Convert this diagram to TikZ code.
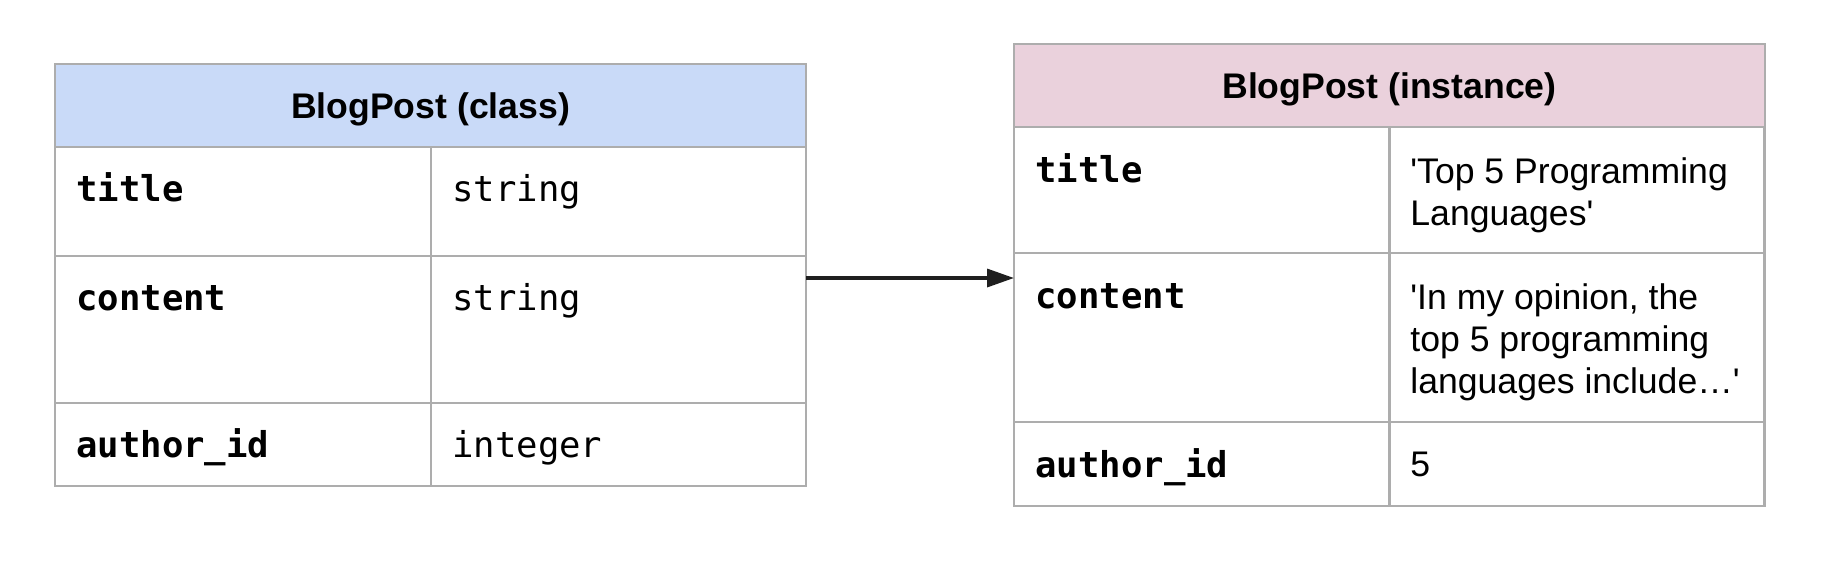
\documentclass[tikz,border=0pt]{standalone}
\usepackage{fontspec}
\setmainfont{Liberation Sans}[Ligatures=TeXOff]
\setmonofont{DejaVu Sans Mono}
\usetikzlibrary{arrows.meta,positioning,calc}
\definecolor{gridgray}{HTML}{ADADAD}
\definecolor{classblue}{HTML}{C9DAF8}
\definecolor{instpink}{HTML}{EAD1DC}
\definecolor{arrowblack}{HTML}{1F1F1F}

\begin{document}
\begin{tikzpicture}[x=0.5pt,y=-0.5pt,>={Triangle[length=13.5pt,width=9pt]},
    tbl/.style={draw=gridgray,line width=1pt,anchor=north west,inner sep=0pt,outer sep=0pt},
    head/.style={tbl,minimum width=375.5pt,minimum height=41.5pt,text depth=0pt,font=\bfseries\fontsize{17.8}{20}\selectfont},
    keycell/.style={tbl,minimum width=188pt},
    valcell/.style={tbl,minimum width=187.5pt},
    keytxt/.style={anchor=base west,inner sep=0pt,font=\ttfamily\bfseries\fontsize{17.8}{20}\selectfont},
    typetxt/.style={anchor=base west,inner sep=0pt,font=\ttfamily\fontsize{17.8}{20}\selectfont},
    valtxt/.style={anchor=north west,inner sep=0pt,align=left,font=\fontsize{17.8}{21}\selectfont}]
    \useasboundingbox (0,0) rectangle (1840,586);

    % class table
    \node[tbl,minimum width=375.5pt,minimum height=211pt] (cls) at (55,64) {};
    \node[head,fill=classblue] (clshead) at (55,64) {BlogPost (class)};
    \node[keycell,minimum height=54.5pt] (clstitle) at (55,147) {};
    \node[valcell,minimum height=54.5pt] (clstitlev) at (431,147) {};
    \node[keycell,minimum height=73.5pt] (clscontent) at (55,256) {};
    \node[valcell,minimum height=73.5pt] (clscontentv) at (431,256) {};
    \node[keycell,minimum height=41.5pt] (clsauthor) at (55,403) {};
    \node[valcell,minimum height=41.5pt] (clsauthorv) at (431,403) {};
    \node[keytxt] at ($(clstitle.north west)+(21,54)$) {title};
    \node[typetxt] at ($(clstitlev.north west)+(21,54)$) {string};
    \node[keytxt] at ($(clscontent.north west)+(21,54)$) {content};
    \node[typetxt] at ($(clscontentv.north west)+(21,54)$) {string};
    \node[keytxt] at ($(clsauthor.north west)+(21,54)$) {author\_id};
    \node[typetxt] at ($(clsauthorv.north west)+(21,54)$) {integer};

    % instance table
    \node[tbl,minimum width=375.5pt,minimum height=231pt] (inst) at (1014,44) {};
    \node[head,fill=instpink] (insthead) at (1014,44) {BlogPost (instance)};
    \node[keycell,minimum height=63pt] (insttitle) at (1014,127) {};
    \node[valcell,minimum height=63pt] (insttitlev) at (1389,127) {};
    \node[keycell,minimum height=84.5pt] (instcontent) at (1014,253) {};
    \node[valcell,minimum height=84.5pt] (instcontentv) at (1389,253) {};
    \node[keycell,minimum height=42pt] (instauthor) at (1014,422) {};
    \node[valcell,minimum height=42pt] (instauthorv) at (1389,422) {};
    \node[keytxt] at ($(insttitle.north west)+(21,55)$) {title};
    \node[valtxt] at ($(insttitlev.north west)+(21,30)$) {'Top 5 Programming\\Languages'};
    \node[keytxt] at ($(instcontent.north west)+(21,55)$) {content};
    \node[valtxt] at ($(instcontentv.north west)+(21,30)$) {'In my opinion, the\\top 5 programming\\languages include…'};
    \node[keytxt] at ($(instauthor.north west)+(21,55)$) {author\_id};
    \node[valtxt] at ($(instauthorv.north west)+(21,30)$) {5};

    \draw[->,arrowblack,line width=1.7pt] ([yshift=-1.5pt]cls.east) -- ([yshift=-1.5pt]inst.west);
\end{tikzpicture}
\end{document}
